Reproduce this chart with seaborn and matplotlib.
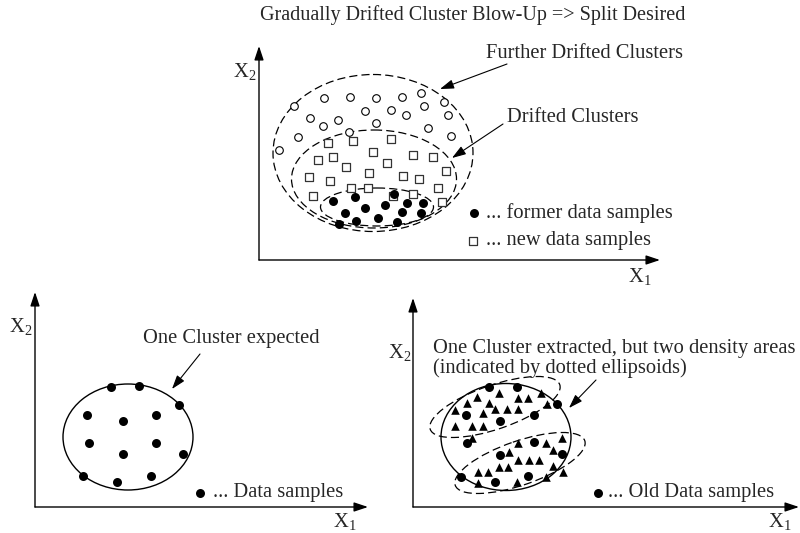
import numpy as np
import pandas as pd
import matplotlib.pyplot as plt
import seaborn as sns
from matplotlib.patches import Ellipse

sns.set_theme(style="white")
plt.rcParams['font.family'] = ['Liberation Serif', 'DejaVu Serif']
plt.rcParams['mathtext.fontset'] = 'custom'
plt.rcParams['mathtext.rm'] = 'Liberation Serif'

# ==========================================
# DATA (positions on the 800 x 533 canvas)
# ==========================================
# top panel: drifting cluster
top_old_x = [333, 355, 394, 407, 423, 345, 365, 385, 402, 421, 356, 378, 397, 339]
top_old_y = [201, 197, 194, 203, 203, 213, 208, 205, 212, 213, 221, 218, 222, 224]

top_new_x = [328, 353, 391, 318, 333, 346, 373, 387, 413, 433, 446, 309,
             330, 369, 403, 419, 438, 313, 351, 368, 393, 413, 442]
top_new_y = [143, 141, 139, 160, 157, 167, 152, 163, 155, 157, 171, 177,
             181, 173, 176, 179, 188, 196, 188, 188, 196, 194, 202]

top_far_x = [294, 324, 350, 376, 402, 421, 444, 310, 323, 338, 365,
             391, 406, 424, 448, 376, 428, 298, 349, 451, 279]
top_far_y = [106, 98, 97, 98, 97, 93, 102, 118, 126, 120, 111,
             110, 115, 106, 115, 123, 128, 137, 132, 136, 150]

# bottom left: one cluster expected
bl_x = [111, 139, 179, 87, 123, 156, 89, 156, 123, 183, 83, 117, 151]
bl_y = [387, 386, 405, 415, 421, 415, 443, 443, 454, 454, 476, 482, 476]

# bottom right: old samples + new samples in two density areas
br_old_x = [489, 517, 557, 466, 500, 534, 467, 534, 500, 562, 461, 495, 528]
br_old_y = [387, 387, 404, 415, 421, 415, 443, 442, 455, 454, 477, 482, 476]

br_up_x = [499, 541, 477, 518, 528, 467, 489, 547, 455, 483, 495, 507, 518, 455, 472, 483, 472]
br_up_y = [393, 393, 397, 398, 398, 403, 403, 404, 410, 413, 409, 409, 409, 426, 426, 426, 438]

br_low_x = [546, 553, 518, 509, 518, 529, 539, 508, 499, 553, 478, 488, 563, 478, 517, 546, 562]
br_low_y = [443, 450, 443, 452, 460, 460, 460, 467, 467, 466, 472, 472, 472, 483, 482, 477, 438]

# legend keys
key_old = ([474, 200, 598], [213, 493, 493])
key_new = ([473], [241])

# ellipses: (cx, cy, width, height, angle)
top_ellipses = [(373, 153, 200, 157, 0), (374, 179, 165, 98, 0), (377, 207, 113, 38, 0)]
br_density = [(495, 407, 137, 44, -19), (520, 463, 137, 44, -19)]
solid_ellipses = [(128, 437, 130, 106, 0), (506, 437, 130, 107, 0)]

# axes: (origin, y tip, x tip)
frames = [((259, 260), (259, 46), (660, 260)),
          ((35, 507), (35, 292), (368, 507)),
          ((413, 507), (413, 298), (799, 507))]

# ==========================================
# DRAW
# ==========================================
fig = plt.figure(figsize=(8, 5.33), dpi=100)
ax = fig.add_axes([0, 0, 1, 1])
ax.set_xlim(0, 800)
ax.set_ylim(533, 0)
ax.axis('off')

dash = (0, (6.5, 3.3))
for cx, cy, w, h, a in top_ellipses + br_density:
    ax.add_patch(Ellipse((cx, cy), w, h, angle=a, fill=False, ec='black', lw=0.9, ls=dash, zorder=1))
for cx, cy, w, h, a in solid_ellipses:
    ax.add_patch(Ellipse((cx, cy), w, h, angle=a, fill=False, ec='black', lw=1.0, zorder=1))

axis_arrow = dict(arrowstyle='-|>,head_length=0.6,head_width=0.2', color='black', lw=1.0,
                  mutation_scale=14, shrinkA=0, shrinkB=0)
for origin, ytip, xtip in frames:
    ax.annotate('', xy=ytip, xytext=origin, arrowprops=axis_arrow)
    ax.annotate('', xy=xtip, xytext=origin, arrowprops=axis_arrow)

pointers = [((507, 64), (440, 89)), ((503, 124), (452, 158)),
            ((200, 354), (172, 389)), ((596, 380), (569, 408))]
for tail, tip in pointers:
    ax.annotate('', xy=tip, xytext=tail, arrowprops=dict(axis_arrow, lw=0.8))

sns.scatterplot(x=top_far_x, y=top_far_y, marker='o', s=30, color='white',
                edgecolor='black', linewidth=0.8, ax=ax, zorder=3)
sns.scatterplot(x=top_new_x + key_new[0], y=top_new_y + key_new[1], marker='s', s=38,
                color='white', edgecolor='#333333', linewidth=0.9, ax=ax, zorder=3)
sns.scatterplot(x=top_old_x + bl_x + br_old_x + key_old[0], y=top_old_y + bl_y + br_old_y + key_old[1],
                marker='o', s=42, color='black', linewidth=0, ax=ax, zorder=4)
sns.scatterplot(x=br_up_x + br_low_x, y=br_up_y + br_low_y, marker='^', s=38,
                color='black', linewidth=0, ax=ax, zorder=4)

fs = 14.8
ax.text(260, 15, 'Gradually Drifted Cluster Blow-Up => Split Desired', fontsize=14.5, va='center')
ax.text(486, 54, 'Further Drifted Clusters', fontsize=fs, va='center')
ax.text(507, 117, 'Drifted Clusters', fontsize=fs, va='center')
ax.text(486, 213, '... former data samples', fontsize=fs, va='center')
ax.text(486, 241, '... new data samples', fontsize=fs, va='center')
ax.text(143, 339, 'One Cluster expected', fontsize=fs, va='center')
ax.text(213, 493, '... Data samples', fontsize=fs, va='center')
ax.text(433, 348, 'One Cluster extracted, but two density areas', fontsize=fs, va='center')
ax.text(433, 368, '(indicated by dotted ellipsoids)', fontsize=fs, va='center')
ax.text(608, 493, '... Old Data samples', fontsize=fs, va='center')

ax.text(256, 72, r'$\mathrm{X}_{2}$', fontsize=fs, va='center', ha='right')
ax.text(628, 277, r'$\mathrm{X}_{1}$', fontsize=fs, va='center')
ax.text(32, 327, r'$\mathrm{X}_{2}$', fontsize=fs, va='center', ha='right')
ax.text(333, 522, r'$\mathrm{X}_{1}$', fontsize=fs, va='center')
ax.text(411, 353, r'$\mathrm{X}_{2}$', fontsize=fs, va='center', ha='right')
ax.text(768, 522, r'$\mathrm{X}_{1}$', fontsize=fs, va='center')

plt.savefig('out.png', dpi=100, facecolor='white')
